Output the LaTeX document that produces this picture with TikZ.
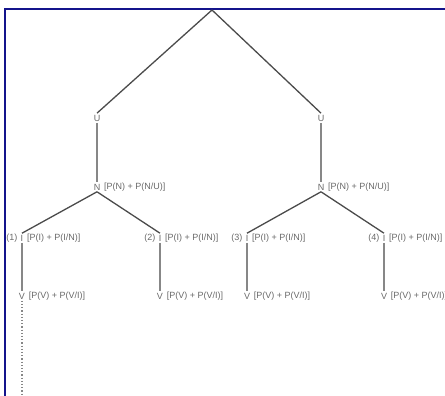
\documentclass[tikz,border=0pt]{standalone}
\usepackage{fontspec}
\setmainfont{Liberation Sans}
\definecolor{frame}{RGB}{20,20,140}
\definecolor{txt}{RGB}{105,105,105}
\definecolor{edge}{RGB}{75,75,75}
\definecolor{stem}{RGB}{135,135,135}
\tikzset{
  sym/.style={inner sep=1.5pt, font=\fontsize{9}{10}\selectfont, text=txt},
  formula/.style={anchor=west, inner sep=0pt, xshift=2pt, font=\fontsize{9}{10}\selectfont, text=txt},
  tag/.style={anchor=east, inner sep=0pt, xshift=-1.5pt, font=\fontsize{9}{10}\selectfont, text=txt},
  branch/.style={draw=edge, line width=1.3pt},
  stemline/.style={draw=stem, line width=1.8pt},
  trail/.style={draw=stem, line width=1.2pt, dotted},
}
\begin{document}
\begin{tikzpicture}[x=1pt, y=-1pt]
  \useasboundingbox (0,0) rectangle (445,396);
  % frame: top and left edges
  \draw[frame, line width=2.2pt] (5,396) -- (5,9) -- (445,9);

  \coordinate (root) at (212,10);
  % second level
  \node[sym] (uL) at (97,118) {U};
  \node[sym] (uR) at (321,118) {U};
  % third level
  \node[sym] (nL) at (97,187) {N};
  \node[sym] (nR) at (321,187) {N};
  \node[formula] (fnL) at (nL.east) {[P(N) + P(N/U)]};
  \node[formula] (fnR) at (nR.east) {[P(N) + P(N/U)]};
  % fourth level
  \node[sym] (i1) at (22,238) {I};
  \node[sym] (i2) at (160,238) {I};
  \node[sym] (i3) at (247,238) {I};
  \node[sym] (i4) at (384,238) {I};
  \foreach \k in {1,...,4} {
    \node[tag] (t\k) at (i\k.west) {(\k)};
    \node[formula] (fi\k) at (i\k.east) {[P(I) + P(I/N)]};
  }
  % fifth level
  \node[sym] (v1) at (22,296) {V};
  \node[sym] (v2) at (160,296) {V};
  \node[sym] (v3) at (247,296) {V};
  \node[sym] (v4) at (384,296) {V};
  \foreach \k in {1,...,4} {
    \node[formula] (fv\k) at (v\k.east) {[P(V) + P(V/I)]};
  }
  \coordinate (tail) at (22,396);

  % connectors
  \draw[branch] (root) -- (uL.north);
  \draw[branch] (root) -- (uR.north);
  \draw[stemline] (uL) -- (nL);
  \draw[stemline] (uR) -- (nR);
  \draw[branch] (nL.south) -- (i1.north);
  \draw[branch] (nL.south) -- (i2.north);
  \draw[branch] (nR.south) -- (i3.north);
  \draw[branch] (nR.south) -- (i4.north);
  \foreach \k in {1,...,4} {
    \draw[stemline] (i\k) -- (v\k);
  }
  \draw[trail] (v1) -- (tail);
\end{tikzpicture}
\end{document}
